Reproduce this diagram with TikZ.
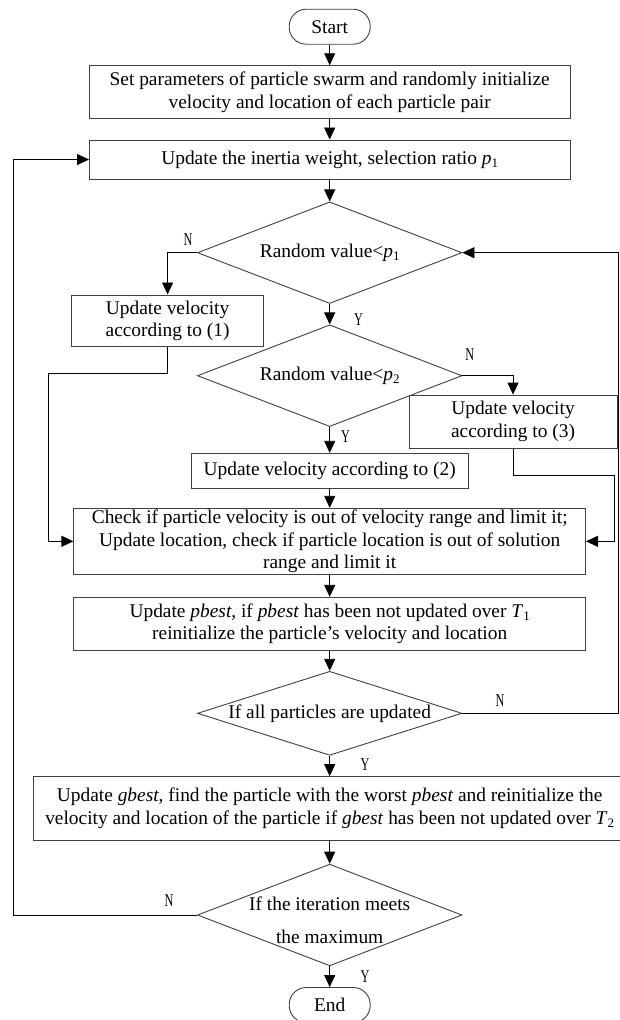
\documentclass[tikz,border=0pt]{standalone}
\usepackage{fontspec}
\setmainfont{Liberation Serif}
\usetikzlibrary{shapes.geometric,arrows.meta}

\newcommand{\varsub}[2]{\textit{#1}\raisebox{-0.35ex}{\fontsize{13}{13}\selectfont #2}}
\newcommand{\yesno}[1]{\scalebox{0.68}[1]{#1}}

\tikzset{
	proc/.style={draw=black!75, line width=0.9pt, rectangle, inner sep=0pt, align=center,
		font=\fontsize{19.4}{22.8}\selectfont},
	decision/.style={draw=black!75, line width=0.9pt, diamond, inner sep=0pt,
		minimum width=264.5pt, font=\fontsize{19.4}{22.8}\selectfont},
	terminal/.style={draw=black!75, line width=0.9pt, rectangle, rounded corners=17pt,
		minimum width=81pt, minimum height=35pt, inner sep=0pt, font=\fontsize{19.4}{22.8}\selectfont},
	flow/.style={line width=0.8pt, -{Triangle[length=12pt,width=11pt]}},
	link/.style={line width=0.8pt},
	branch/.style={inner sep=0pt, font=\fontsize{18}{18}\selectfont}
}

\begin{document}
\begin{tikzpicture}[x=1pt,y=-1pt]

	\pgfmathsetmacro{\midx}{329.7}

	\useasboundingbox (0,0) rectangle (619,1020);

	% main column
	\node[terminal] (start) at (\midx,26.7) {Start};
	\node[proc, minimum width=480.5pt, minimum height=52.6pt] (init) at (\midx,92)
		{Set parameters of particle swarm and randomly initialize\\velocity and location of each particle pair};
	\node[proc, minimum width=480.5pt, minimum height=39pt] (weight) at (\midx,159.5)
		{Update the inertia weight, selection ratio \varsub{p}{1}};
	\node[decision, minimum height=101.6pt] (rand1) at (\midx,252.7)
		{\makebox[0pt]{Random value<\varsub{p}{1}}};
	\node[decision, minimum height=101.7pt] (rand2) at (\midx,375.7)
		{\makebox[0pt]{Random value<\varsub{p}{2}}};
	\node[proc, minimum width=277pt, minimum height=35pt] (vel2) at (\midx,470.8)
		{Update velocity according to (2)};
	\node[proc, minimum width=511.7pt, minimum height=66pt] (check) at (\midx,541.3)
		{Check if particle velocity is out of velocity range and limit it;\\
		 Update location, check if particle location is out of solution\\
		 range and limit it};
	\node[proc, minimum width=511.7pt, minimum height=52.7pt] (pbest) at (\midx,623.7)
		{Update \textit{pbest}, if \textit{pbest} has been not updated over \varsub{T}{1}\\
		 reinitialize the particle’s velocity and location};
	\node[decision, minimum height=84pt] (allupd) at (\midx,713.3)
		{\makebox[0pt]{If all particles are updated}};
	\node[proc, minimum width=592.2pt, minimum height=63.3pt] (gbest) at (\midx,808.3)
		{Update \textit{gbest}, find the particle with the worst \textit{pbest} and reinitialize the\\
		 velocity and location of the particle if \textit{gbest} has been not updated over \varsub{T}{2}};
	\node[decision, minimum height=101.7pt] (iter) at (\midx,915)
		{\makebox[0pt]{\raisebox{-13pt}[0pt][0pt]{\begin{tabular}{@{}c@{}}If the iteration meets\\[10pt]the maximum\end{tabular}}}};
	\node[terminal] (end) at (\midx,1005) {End};

	% side boxes
	\node[proc, minimum width=191.8pt, minimum height=51.7pt] (vel1) at (167.6,320.8)
		{Update velocity\\according to (1)};
	\node[proc, minimum width=208pt, minimum height=53.3pt] (vel3) at (513,421.7)
		{Update velocity\\according to (3)};

	% corner points of the loops
	\coordinate (lcorner) at (48.2,373.3);
	\coordinate (rcorner) at (614,475.7);
	\coordinate (backr) at (618.5,713.3);
	\coordinate (backl) at (13.5,915);

	% straight arrows
	\draw[flow] (start) -- (init);
	\draw[flow] (init) -- (weight);
	\draw[flow] (weight) -- (rand1);
	\draw[flow] (rand1) -- (rand2);
	\draw[flow] (rand2) -- (vel2);
	\draw[flow] (vel2) -- (check);
	\draw[flow] (check) -- (pbest);
	\draw[flow] (pbest) -- (allupd);
	\draw[flow] (allupd) -- (gbest);
	\draw[flow] (gbest) -- (iter);
	\draw[flow] (iter) -- (end);

	% branches
	\draw[flow] (rand1.west) -| (vel1.north);
	\draw[flow] (rand2.east) -| (vel3.north);
	\draw[flow] (vel1.south) |- (lcorner) |- (check.west);
	\draw[flow] (vel3.south) |- (rcorner) |- (check.east);

	% loops back
	\draw[flow] (allupd.east) -- (backr) |- (rand1.east);
	\draw[flow] (iter.west) -- (backl) |- (weight.west);

	% branch labels
	\node[branch] (n1) at (188,240) {\yesno{N}};
	\node[branch] (y1) at (358.5,320) {\yesno{Y}};
	\node[branch] (n2) at (469.8,355) {\yesno{N}};
	\node[branch] (y2) at (345.5,436.7) {\yesno{Y}};
	\node[branch] (n3) at (500,701) {\yesno{N}};
	\node[branch] (y3) at (365,765) {\yesno{Y}};
	\node[branch] (n4) at (169,901) {\yesno{N}};
	\node[branch] (y4) at (365,976.7) {\yesno{Y}};

\end{tikzpicture}
\end{document}
